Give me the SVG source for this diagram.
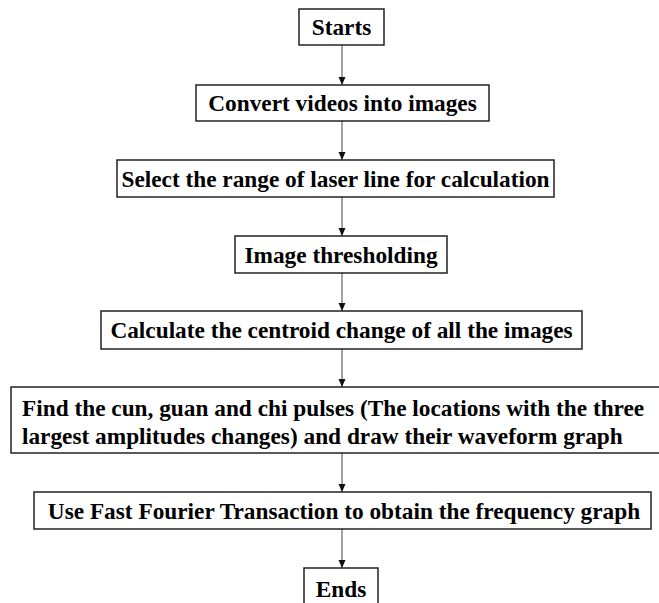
<svg xmlns="http://www.w3.org/2000/svg" width="659" height="603" viewBox="0 0 659 603">
<defs>
<marker id="ah" viewBox="0 0 8 8" refX="8" refY="4" markerWidth="8" markerHeight="8" markerUnits="userSpaceOnUse" orient="auto">
<path d="M0,0.5 L8,4 L0,7.5 Z" fill="#111"/>
</marker>
<style>
.box{fill:#fff;stroke:#222;stroke-width:1.5}
.t{font-family:"Liberation Serif","Times New Roman",serif;font-weight:bold;font-size:23.3px;fill:#000;text-anchor:middle}
.l{text-anchor:start}
.c{stroke:#444;stroke-width:1;fill:none;marker-end:url(#ah)}
</style>
</defs>
<rect width="659" height="603" fill="#fff"/>
<g id="connectors">
<line class="c" x1="342" y1="45" x2="342" y2="85"/>
<line class="c" x1="342" y1="121" x2="342" y2="160"/>
<line class="c" x1="342" y1="197" x2="342" y2="236"/>
<line class="c" x1="342" y1="273" x2="342" y2="311"/>
<line class="c" x1="342" y1="349" x2="342" y2="387"/>
<line class="c" x1="342" y1="453" x2="342" y2="492"/>
<line class="c" x1="342" y1="529" x2="342" y2="568"/>
</g>
<g id="starts"><rect class="box" x="299" y="9" width="85" height="36"/><text class="t" x="341.5" y="35">Starts</text></g>
<g id="convert"><rect class="box" x="196" y="85" width="293" height="36"/><text class="t" x="342.5" y="111">Convert videos into images</text></g>
<g id="select"><rect class="box" x="117" y="160" width="437" height="37"/><text class="t" x="335.5" y="187">Select the range of laser line for calculation</text></g>
<g id="threshold"><rect class="box" x="235" y="236" width="212" height="37"/><text class="t" x="341" y="263">Image thresholding</text></g>
<g id="calculate"><rect class="box" x="101" y="311" width="481" height="38"/><text class="t" x="341.5" y="338">Calculate the centroid change of all the images</text></g>
<g id="find"><rect class="box" x="11" y="387" width="660" height="66"/><text class="t l" x="22" y="416">Find the cun, guan and chi pulses (The locations with the three</text><text class="t l" x="22" y="444">largest amplitudes changes) and draw their waveform graph</text></g>
<g id="fft"><rect class="box" x="34" y="492" width="617" height="37"/><text class="t" x="344" y="519">Use Fast Fourier Transaction to obtain the frequency graph</text></g>
<g id="ends"><rect class="box" x="304" y="568" width="74" height="42"/><text class="t" x="341" y="597">Ends</text></g>
</svg>
